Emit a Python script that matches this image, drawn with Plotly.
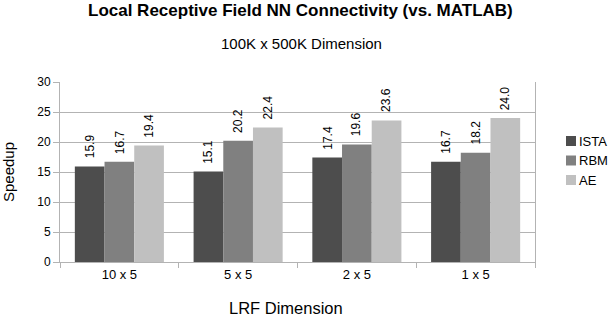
import plotly.graph_objects as go

categories = ["10 x 5", "5 x 5", "2 x 5", "1 x 5"]
ista = [15.9, 15.1, 17.4, 16.7]
rbm = [16.7, 20.2, 19.6, 18.2]
ae = [19.4, 22.4, 23.6, 24.0]
series_names = ["ISTA", "RBM", "AE"]
colors = ["#4d4d4d", "#808080", "#c0c0c0"]

FONT = "Liberation Sans, Arial, sans-serif"
L, R, T, B = 60, 73, 82, 56
PW, PH = 608 - L - R, 318 - T - B


def px_x(x):
    return (x - L) / PW


def px_y(y):
    return (318 - B - y) / PH


fig = go.Figure()
for name, vals, col in zip(series_names, [ista, rbm, ae], colors):
    fig.add_trace(go.Bar(
        x=categories, y=vals, name=name, marker=dict(color=col, line=dict(width=0)),
        showlegend=False,
    ))

# value labels above each bar (rotated), offset per series within the group
bar_px = 0.75 * PW / len(categories) / 3
for i, vals in enumerate([ista, rbm, ae]):
    for c, v in zip(categories, vals):
        fig.add_annotation(
            x=c, y=v, xref="x", yref="y", text=f"{v:.1f}", showarrow=False,
            textangle=-90, xanchor="center", yanchor="bottom",
            xshift=(i - 1) * bar_px, yshift=6,
            font=dict(family=FONT, size=12, color="#000000"),
        )

# legend (squares + labels) to the right of the plot
for i, (name, col) in enumerate(zip(series_names, colors)):
    yc = 141 + i * 19.5
    fig.add_shape(type="rect", xref="paper", yref="paper",
                  x0=px_x(566), x1=px_x(576), y0=px_y(yc + 5), y1=px_y(yc - 5),
                  fillcolor=col, line=dict(width=0))
    fig.add_annotation(text=name, xref="paper", yref="paper",
                       x=px_x(577), y=px_y(yc), xanchor="left", yanchor="middle",
                       showarrow=False, font=dict(family=FONT, size=13, color="#000000"))

fig.update_layout(
    width=608, height=318,
    margin=dict(l=L, r=R, t=T, b=B, autoexpand=False),
    paper_bgcolor="white", plot_bgcolor="white",
    barmode="group", bargap=0.25, bargroupgap=0,
    font=dict(family=FONT, size=12, color="#000000"),
    showlegend=False,
)
fig.add_annotation(text="<b>Local Receptive Field NN Connectivity (vs. MATLAB)</b>",
                   xref="paper", yref="paper", x=px_x(300), y=px_y(10),
                   xanchor="center", yanchor="middle", showarrow=False,
                   font=dict(family=FONT, size=17, color="#000000"))
fig.add_annotation(text="100K x 500K Dimension", xref="paper", yref="paper",
                   x=px_x(301), y=px_y(43), xanchor="center", yanchor="middle",
                   showarrow=False, font=dict(family=FONT, size=15, color="#000000"))
fig.add_annotation(text="LRF Dimension", xref="paper", yref="paper",
                   x=px_x(286), y=px_y(308), xanchor="center", yanchor="middle",
                   showarrow=False, font=dict(family=FONT, size=16.5, color="#000000"))

fig.update_xaxes(
    automargin=False,
    showline=True, linecolor="#b3b3b3", linewidth=1,
    ticks="outside", tickson="boundaries", ticklen=5, tickcolor="#b3b3b3",
    showgrid=False,
    tickfont=dict(family=FONT, size=13),
)
fig.update_yaxes(
    automargin=False,
    range=[0, 30], dtick=5, showline=True, mirror=True, linecolor="#b3b3b3", linewidth=1,
    ticks="outside", ticklen=6, tickcolor="#b3b3b3",
    showgrid=True, gridcolor="#b3b3b3", gridwidth=1, zeroline=False,
    title=dict(text="Speedup", font=dict(family=FONT, size=15), standoff=22),
    tickfont=dict(family=FONT, size=12),
)

fig.write_html("out.html", post_script="document.body.style.margin='0';",
               config={"displayModeBar": False})
